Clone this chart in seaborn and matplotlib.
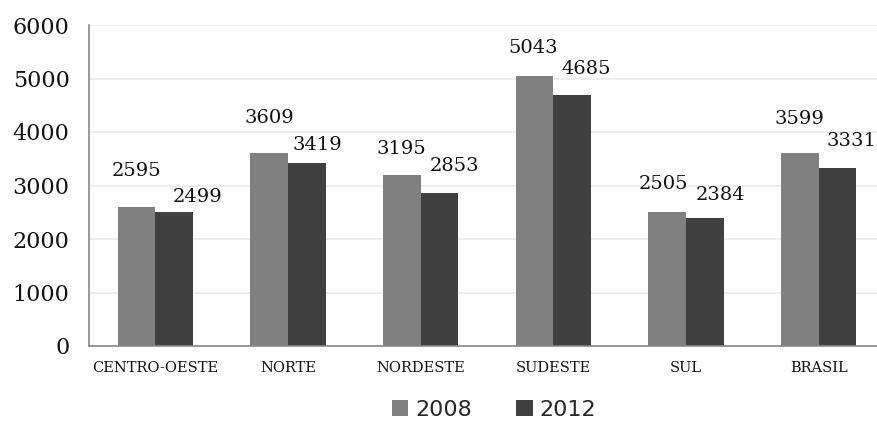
import matplotlib
matplotlib.use("Agg")
import matplotlib.pyplot as plt
import seaborn as sns
import pandas as pd

categories = ["CENTRO-OESTE", "NORTE", "NORDESTE", "SUDESTE", "SUL", "BRASIL"]
series_names = ["2008", "2012"]
values_2008 = [2595, 3609, 3195, 5043, 2505, 3599]
values_2012 = [2499, 3419, 2853, 4685, 2384, 3331]
y_ticks = [0, 1000, 2000, 3000, 4000, 5000, 6000]

# label placement (pixels, relative to top centre of each bar), as arranged in the reference
label_dx = [[0, 0, 0, -1, -4, 0], [23, 10, 15, 14, 16, 14]]
label_dy = [[36, 35, 26, 28, 28, 34], [15, 18, 27, 26, 23, 27]]

df = pd.DataFrame({
    "Região": categories * 2,
    "Ano": [series_names[0]] * len(categories) + [series_names[1]] * len(categories),
    "Valor": values_2008 + values_2012,
})

sns.set_style("white")
plt.rcParams["font.family"] = ["DejaVu Serif"]

W, H = 877, 422
fig = plt.figure(figsize=(W / 100, H / 100), dpi=100)
ax = fig.add_axes([89 / W, 1 - 346 / H, (885 - 89) / W, (346 - 25) / H])

palette = {"2008": "#808080", "2012": "#404040"}
sns.barplot(data=df, x="Região", y="Valor", hue="Ano", palette=palette,
            width=0.57, ax=ax, saturation=1, legend=True, errorbar=None,
            linewidth=0)

ax.set_xlim(-0.5, len(categories) - 0.5)
ax.set_ylim(0, 6000)
ax.set_yticks(y_ticks)
ax.set_yticklabels([str(t) for t in y_ticks], fontsize=16, color="#111111")
ax.set_xlabel("")
ax.set_ylabel("")
ax.set_xticks(range(len(categories)))
ax.set_xticklabels(categories)
ax.tick_params(axis="x", which="major", length=0, labelsize=10.5, pad=11, colors="#111111")
ax.set_xticks([i - 0.5 for i in range(len(categories) + 1)], minor=True)
ax.tick_params(axis="x", which="minor", length=5, color="#888888", width=1.2)
ax.tick_params(axis="y", length=6, color="#888888", width=1.2, pad=8)

ax.yaxis.grid(True, color="#ebebeb", linewidth=1.2)
ax.set_axisbelow(True)
for s in ["top", "right"]:
    ax.spines[s].set_visible(False)
for s in ["left", "bottom"]:
    ax.spines[s].set_color("#888888")
    ax.spines[s].set_linewidth(1.2)

px2pt = 72 / 100
for si, cont in enumerate(ax.containers):
    for bi, bar in enumerate(cont):
        h = bar.get_height()
        ax.annotate(f"{int(round(h))}", (bar.get_x() + bar.get_width() / 2, h),
                    xytext=(label_dx[si][bi] * px2pt, label_dy[si][bi] * px2pt),
                    textcoords="offset points", ha="center", va="center",
                    fontsize=14, color="#111111", annotation_clip=False)

handles, labels = ax.get_legend_handles_labels()
ax.legend_.remove()
fig.legend(handles, labels, loc="center", bbox_to_anchor=(494 / W, 1 - 410 / H),
           ncol=2, frameon=False, handlelength=0.75, handleheight=0.75,
           handletextpad=0.3, columnspacing=2.0,
           prop={"family": ["DejaVu Sans"], "size": 16})

fig.savefig("out.png", dpi=100)
